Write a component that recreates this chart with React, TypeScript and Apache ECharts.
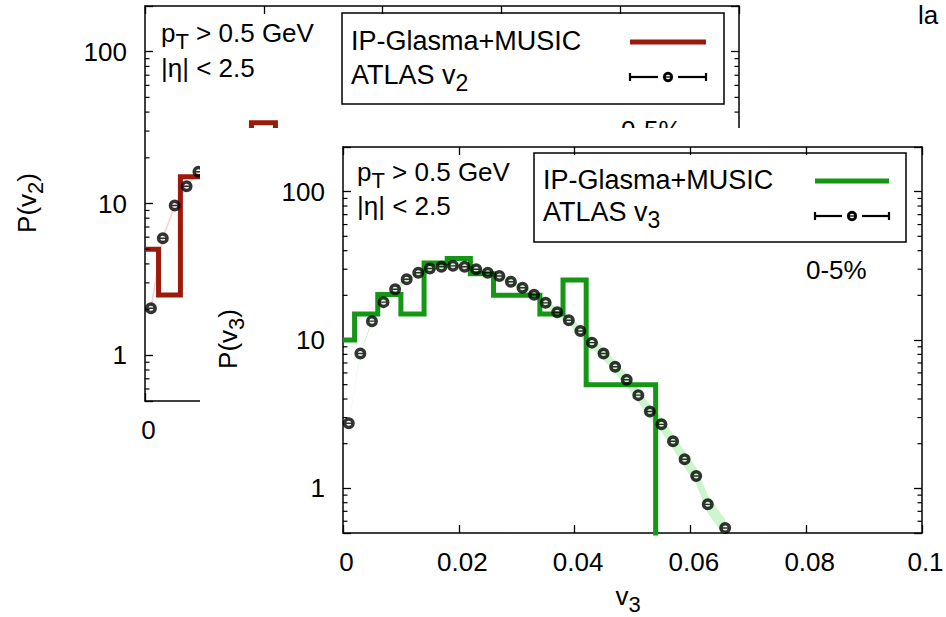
import React, { useEffect, useRef } from 'react';
import * as echarts from 'echarts';

const FONT = 'Liberation Sans, Arial, sans-serif';

// ---------- Front panel: P(v3), 0-5% ----------
const v3ModelEdges = [0, 0.002, 0.006, 0.01, 0.014, 0.018, 0.022, 0.026, 0.03, 0.034, 0.038, 0.042, 0.046, 0.05, 0.054];
const v3ModelValues = [10, 15, 20.3, 15, 33, 35.5, 28, 20, 20, 15, 25.4, 5, 5, 5];
const v3AtlasX = [
  0.001, 0.003, 0.005, 0.007, 0.009, 0.011, 0.013, 0.015, 0.017, 0.019, 0.021,
  0.023, 0.025, 0.027, 0.029, 0.031, 0.033, 0.035, 0.037, 0.039, 0.041, 0.043,
  0.045, 0.047, 0.049, 0.051, 0.053, 0.055, 0.057, 0.059, 0.061, 0.063, 0.066,
];
const v3AtlasY = [
  2.75, 8.1, 13.4, 18.0, 22.0, 25.7, 28.4, 30.3, 31.2, 31.6, 31.2,
  30.0, 28.4, 27.0, 24.7, 22.5, 20.2, 17.8, 15.4, 13.6, 11.5, 9.6,
  8.1, 6.6, 5.4, 4.25, 3.3, 2.7, 2.08, 1.57, 1.21, 0.78, 0.54,
];
const v3BandLow = [
  2.72, 7.95, 13.0, 17.4, 21.2, 24.8, 27.4, 29.2, 30.1, 30.5, 30.1,
  28.9, 27.4, 26.0, 23.7, 21.6, 19.3, 16.9, 14.5, 12.7, 10.6, 8.8,
  7.35, 5.95, 4.85, 3.8, 2.95, 2.4, 1.84, 1.38, 1.06, 0.68, 0.47,
];
const v3BandHigh = [
  2.78, 8.25, 13.8, 18.6, 22.8, 26.6, 29.4, 31.4, 32.3, 32.7, 32.3,
  31.1, 29.4, 28.0, 25.7, 23.4, 21.1, 18.7, 16.3, 14.5, 12.4, 10.4,
  8.85, 7.25, 5.95, 4.7, 3.65, 3.0, 2.32, 1.78, 1.38, 0.9, 0.62,
];
const v3XRange = [0, 0.1];
const v3XStep = 0.02;

// ---------- Back panel: P(v2), 0-5% (mostly hidden) ----------
const v2ModelEdges = [0, 0.0057, 0.0149, 0.0245, 0.0345, 0.0448, 0.0549, 0.065];
const v2ModelValues = [5, 2.5, 15, 22, 28, 34, 25];
const v2AtlasX = [0.0025, 0.0075, 0.0125, 0.0175, 0.0225];
const v2AtlasY = [2.04, 5.9, 9.7, 13.0, 16.2];
const v2XRange = [0, 0.25];
const v2XStep = 0.05;

// ---------- shared axis values ----------
const yRange = [0.5, 200];
const yMinorTicks = [0.6, 0.7, 0.8, 0.9, 2, 3, 4, 5, 6, 7, 8, 9, 20, 30, 40, 50, 60, 70, 80, 90];
const histogramFloor = 0.01;

const GREEN = '#159615';
const RED = '#9b1a0c';
const BAND_GREEN = '#cdf5cd';
const LINK_PINK = '#ffcfcf';

const POINT_SYMBOL =
  'path://M0 -5 A5 5 0 1 1 0 5 A5 5 0 1 1 0 -5 Z M0 -2.1 A2.1 2.1 0 1 0 0 2.1 A2.1 2.1 0 1 0 0 -2.1 Z M-2.3 -0.6 L2.3 -0.6 L2.3 0.6 L-2.3 0.6 Z';

const AXIS_LINE = { color: '#000', width: 1.5 };
const TICK_LINE = { color: '#000', width: 1.3 };

function powerLabel(v: number) {
  const e = Math.log10(v);
  return Math.abs(e - Math.round(e)) < 1e-6 ? String(Math.round(Math.pow(10, Math.round(e)))) : '';
}

function txt(x: number, y: number, text: string, size = 26, extra: any = {}) {
  const lh = extra.lineHeight || Math.round(size * 1.4);
  return {
    type: 'text',
    x,
    y,
    z: 10,
    rotation: extra.rotation || 0,
    style: {
      text,
      fontSize: size,
      fontFamily: FONT,
      fill: '#000',
      align: extra.align || 'left',
      verticalAlign: 'middle',
      lineHeight: lh,
      rich: {
        s: {
          fontSize: Math.round(size * 0.85),
          fontFamily: FONT,
          fill: '#000',
          color: '#000',
          lineHeight: lh,
          padding: [Math.round(size * 0.6), 0, 0, 0],
        },
      },
    },
  };
}

function errLegend(x1: number, x2: number, cx: number, y: number) {
  const ls = { stroke: '#000', lineWidth: 2.2 };
  return [
    { type: 'line', z: 10, shape: { x1, y1: y, x2: cx - 10, y2: y }, style: ls },
    { type: 'line', z: 10, shape: { x1: cx + 10, y1: y, x2, y2: y }, style: ls },
    { type: 'line', z: 10, shape: { x1, y1: y - 4, x2: x1, y2: y + 4 }, style: ls },
    { type: 'line', z: 10, shape: { x1: x2, y1: y - 4, x2, y2: y + 4 }, style: ls },
    { type: 'circle', z: 10, shape: { cx, cy: y, r: 3.7 }, style: { fill: '#fff', stroke: '#000', lineWidth: 2.8 } },
    { type: 'line', z: 11, shape: { x1: cx - 3, y1: y, x2: cx + 3, y2: y }, style: { stroke: '#000', lineWidth: 1.3 } },
  ];
}

function stepData(edges: number[], values: number[]) {
  const d = values.map((v, i) => [edges[i], v]);
  d.push([edges[edges.length - 1], histogramFloor]);
  return d;
}

function buildPanel(cfg: any) {
  const xBase = {
    type: 'value',
    min: cfg.xRange[0],
    max: cfg.xRange[1],
    interval: cfg.xStep,
    splitLine: { show: false },
    axisLine: { show: true, onZero: false, lineStyle: AXIS_LINE },
    axisTick: { show: true, inside: true, length: 8, lineStyle: TICK_LINE },
  };
  const yBase = {
    type: 'log',
    logBase: 10,
    min: yRange[0],
    max: yRange[1],
    splitLine: { show: false },
    axisLine: { show: true, onZero: false, lineStyle: AXIS_LINE },
    axisTick: { show: true, inside: true, length: 8, lineStyle: TICK_LINE },
  };
  const series: any[] = [];
  if (cfg.band) {
    const { xs, lo, hi } = cfg.band;
    series.push({
      type: 'custom',
      z: 1,
      silent: true,
      clip: true,
      data: [[xs[0], lo[0]]],
      renderItem: (_p: any, api: any) => {
        const up = xs.map((x: number, i: number) => api.coord([x, hi[i]]));
        const dn = xs.map((x: number, i: number) => api.coord([x, lo[i]])).reverse();
        return { type: 'polygon', shape: { points: up.concat(dn) }, style: { fill: BAND_GREEN } };
      },
    });
  }
  if (cfg.link) {
    series.push({
      type: 'line',
      z: 1,
      silent: true,
      symbol: 'none',
      data: cfg.atlasX.map((x: number, i: number) => [x, cfg.atlasY[i]]),
      lineStyle: { color: LINK_PINK, width: 1.6 },
    });
  }
  series.push({
    type: 'line',
    z: 2,
    step: 'end',
    symbol: 'none',
    clip: true,
    data: stepData(cfg.edges, cfg.values),
    lineStyle: { color: cfg.color, width: 5, join: 'miter', cap: 'butt' },
  });
  series.push({
    type: 'scatter',
    z: 3,
    symbol: POINT_SYMBOL,
    symbolSize: 12,
    itemStyle: { color: '#000' },
    data: cfg.atlasX.map((x: number, i: number) => [x, cfg.atlasY[i]]),
  });
  series.push({
    type: 'custom',
    z: 4,
    silent: true,
    clip: false,
    data: yMinorTicks.map((v) => [cfg.xRange[0], v]),
    renderItem: (params: any, api: any) => {
      const cs = params.coordSys;
      const y = api.coord([cfg.xRange[0], api.value(1)])[1];
      const st = { stroke: '#000', lineWidth: 1.2 };
      return {
        type: 'group',
        children: [
          { type: 'line', shape: { x1: cs.x, y1: y, x2: cs.x + 4.5, y2: y }, style: st },
          { type: 'line', shape: { x1: cs.x + cs.width - 4.5, y1: y, x2: cs.x + cs.width, y2: y }, style: st },
        ],
      };
    },
  });

  return {
    animation: false,
    backgroundColor: '#fff',
    grid: { ...cfg.grid, containLabel: false, outerBoundsMode: 'none' },
    xAxis: [
      {
        ...xBase,
        position: 'bottom',
        axisLabel: { margin: 16, fontSize: 26, fontFamily: FONT, color: '#000', padding: [0, 0, 0, 7] },
      },
      { ...xBase, position: 'top', axisLabel: { show: false } },
    ],
    yAxis: [
      {
        ...yBase,
        position: 'left',
        axisLabel: { margin: 18, fontSize: 26, fontFamily: FONT, color: '#000', formatter: powerLabel },
      },
      { ...yBase, position: 'right', axisLabel: { show: false } },
    ],
    series,
    graphic: { elements: cfg.graphics },
  };
}

function backOption() {
  const graphics: any[] = [
    { type: 'rect', z: 10, shape: { x: 342, y: 13, width: 382, height: 91 }, style: { fill: 'none', stroke: '#000', lineWidth: 1.5 } },
    txt(351, 41, 'IP-Glasma+MUSIC', 27),
    { type: 'line', z: 10, shape: { x1: 630, y1: 42, x2: 706, y2: 42 }, style: { stroke: RED, lineWidth: 5 } },
    txt(351, 75, 'ATLAS v{s|2}', 27),
    ...errLegend(630, 706, 668, 77),
    txt(161, 33, 'p{s|T} > 0.5 GeV', 26),
    txt(161, 68, '|η| < 2.5', 26),
    txt(621, 130, '0-5%', 26),
    txt(27, 203, 'P(v{s|2})', 26, { rotation: Math.PI / 2, align: 'center' }),
    txt(918, 15, 'la', 26, { lineHeight: 26 }),
  ];
  return buildPanel({
    grid: { left: 145, top: 6, width: 594, height: 395 },
    xRange: v2XRange,
    xStep: v2XStep,
    edges: v2ModelEdges,
    values: v2ModelValues,
    atlasX: v2AtlasX,
    atlasY: v2AtlasY,
    color: RED,
    link: true,
    graphics,
  });
}

function frontOption() {
  const graphics: any[] = [
    { type: 'rect', z: 10, shape: { x: 334, y: 25, width: 372, height: 89 }, style: { fill: 'none', stroke: '#000', lineWidth: 1.5 } },
    txt(343, 52, 'IP-Glasma+MUSIC', 27),
    { type: 'line', z: 10, shape: { x1: 615, y1: 53, x2: 689, y2: 53 }, style: { stroke: GREEN, lineWidth: 5 } },
    txt(343, 84, 'ATLAS v{s|3}', 27),
    ...errLegend(615, 689, 652, 88),
    txt(157, 44, 'p{s|T} > 0.5 GeV', 26),
    txt(157, 78, '|η| < 2.5', 26),
    txt(606, 142, '0-5%', 26),
    txt(28, 211, 'P(v{s|3})', 26, { rotation: Math.PI / 2, align: 'center' }),
    txt(428, 468, 'v{s|3}', 26, { align: 'center' }),
  ];
  return buildPanel({
    grid: { left: 143, top: 19, width: 579, height: 386 },
    xRange: v3XRange,
    xStep: v3XStep,
    edges: v3ModelEdges,
    values: v3ModelValues,
    atlasX: v3AtlasX,
    atlasY: v3AtlasY,
    color: GREEN,
    band: { xs: v3AtlasX, lo: v3BandLow, hi: v3BandHigh },
    graphics,
  });
}

export default function App() {
  const backRef = useRef<HTMLDivElement>(null);
  const frontRef = useRef<HTMLDivElement>(null);
  useEffect(() => {
    const back = echarts.init(backRef.current!, null, { renderer: 'svg' });
    back.setOption(backOption() as any);
    const front = echarts.init(frontRef.current!, null, { renderer: 'svg' });
    front.setOption(frontOption() as any);
    return () => {
      back.dispose();
      front.dispose();
    };
  }, []);
  return (
    <div>
      <div
        ref={backRef}
        style={{ position: 'absolute', left: 0, top: 0, width: 946, height: 617, background: '#fff' }}
      />
      <div
        ref={frontRef}
        style={{ position: 'absolute', left: 200, top: 128, width: 746, height: 489, background: '#fff' }}
      />
    </div>
  );
}
